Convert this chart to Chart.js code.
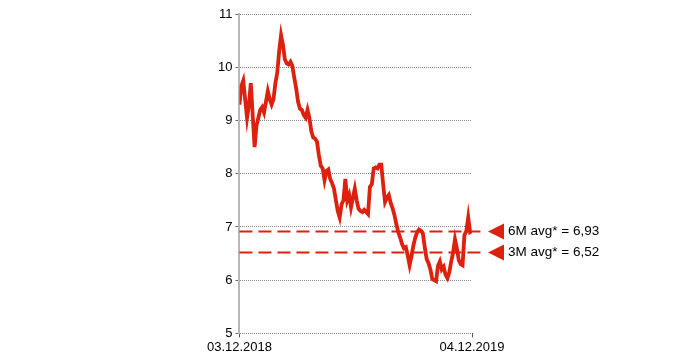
<!DOCTYPE html>
<html>
<head>
<meta charset="utf-8">
<script src="https://cdn.jsdelivr.net/npm/chart.js@4.4.0/dist/chart.umd.min.js"></script>
<style>
  html, body { margin: 0; padding: 0; background: #fff; }
  #wrap { width: 700px; height: 358px; }
</style>
</head>
<body>
<div id="wrap"><canvas id="priceChart"></canvas></div>
<script>
// share price, 03.12.2018 .. 04.12.2019
const prices = [
  9.3, 9.65, 9.75, 9.4, 9.05, 9.3, 9.7, 9.1, 8.5, 8.9,
  9.05, 9.2, 9.25, 9.15, 9.35, 9.55, 9.4, 9.3, 9.4, 9.7,
  9.9, 10.3, 10.6, 10.42, 10.15, 10.07, 10.05, 10.1, 10.02, 9.8,
  9.6, 9.35, 9.22, 9.2, 9.1, 9.05, 9.2, 9.05, 8.8, 8.68,
  8.66, 8.6, 8.35, 8.15, 8.1, 7.88, 8.05, 8.08, 7.9, 7.82,
  7.72, 7.5, 7.3, 7.18, 7.42, 7.5, 7.9, 7.5, 7.6, 7.37,
  7.55, 7.72, 7.5, 7.34, 7.3, 7.28, 7.32, 7.28, 7.24, 7.75,
  7.8, 8.1, 8.12, 8.1, 8.17, 8.17, 7.8, 7.47, 7.55, 7.6,
  7.45, 7.35, 7.22, 7.05, 6.9, 6.8, 6.68, 6.6, 6.62, 6.46,
  6.28, 6.45, 6.65, 6.8, 6.9, 6.95, 6.93, 6.88, 6.62, 6.4,
  6.32, 6.2, 6.02, 6.0, 5.98, 6.27, 6.35, 6.2, 6.25, 6.1,
  6.04, 6.15, 6.35, 6.52, 6.77, 6.6, 6.38, 6.3, 6.28, 6.85,
  6.92, 7.18, 6.9, 6.92
];
const dateLabels = ['03.12.2018', '04.12.2019'];
const avgNames = ['6M avg*', '3M avg*'];
const avgValues = [6.93, 6.52];
const yTicks = [5, 6, 7, 8, 9, 10, 11];

const red = 'rgb(222, 32, 14)';
const font = '"Liberation Sans", Arial, sans-serif';

const avgPlugin = {
  id: 'avgLines',
  afterDatasetsDraw(chart) {
    const ctx = chart.ctx;
    const area = chart.chartArea;
    const y = chart.scales.y;
    ctx.save();
    avgValues.forEach((v, i) => {
      const py = Math.round(y.getPixelForValue(v)) + 0.5;
      ctx.strokeStyle = red;
      ctx.lineWidth = 2;
      ctx.setLineDash([13, 6]);
      ctx.beginPath();
      ctx.moveTo(area.left, py);
      ctx.lineTo(area.right + 14, py);
      ctx.stroke();
      ctx.setLineDash([]);
      // arrow head pointing left
      const tip = area.right + 16;
      ctx.fillStyle = red;
      ctx.beginPath();
      ctx.moveTo(tip, py);
      ctx.lineTo(tip + 16, py - 8);
      ctx.lineTo(tip + 16, py + 8);
      ctx.closePath();
      ctx.fill();
      ctx.fillStyle = '#000';
      ctx.font = '13.5px ' + font;
      ctx.textAlign = 'left';
      ctx.textBaseline = 'middle';
      ctx.fillText(avgNames[i] + ' = ' + v.toFixed(2).replace('.', ','), tip + 20, py);
    });
    ctx.restore();
  }
};

new Chart(document.getElementById('priceChart'), {
  type: 'line',
  data: {
    datasets: [{
      data: prices.map((p, i) => ({ x: i, y: p })),
      borderColor: red,
      borderWidth: 3.8,
      pointRadius: 0,
      tension: 0,
      fill: false
    }]
  },
  options: {
    responsive: true,
    maintainAspectRatio: false,
    animation: false,
    layout: { padding: { left: 215, right: 228, top: 14, bottom: 1 } },
    plugins: { legend: { display: false }, tooltip: { enabled: false } },
    scales: {
      x: {
        type: 'linear',
        min: 0,
        max: prices.length - 1,
        afterBuildTicks: axis => {
          axis.ticks = [{ value: 0 }, { value: prices.length - 1 }];
        },
        ticks: {
          color: '#000',
          font: { family: font, size: 13 },
          padding: 2,
          maxRotation: 0,
          callback: (v, i) => dateLabels[i]
        },
        grid: { drawOnChartArea: false, tickLength: 4, color: '#555' },
        border: { display: false }
      },
      y: {
        min: 5,
        max: 11,
        afterBuildTicks: axis => {
          axis.ticks = yTicks.map(v => ({ value: v }));
        },
        ticks: {
          color: '#000',
          font: { family: font, size: 13 },
          padding: 3
        },
        grid: { color: '#8a8a8a', lineWidth: 1, tickLength: 4, tickColor: '#666' },
        border: { display: true, color: '#b8b8b8', width: 2, dash: [1, 1] }
      }
    }
  },
  plugins: [avgPlugin]
});
</script>
</body>
</html>
